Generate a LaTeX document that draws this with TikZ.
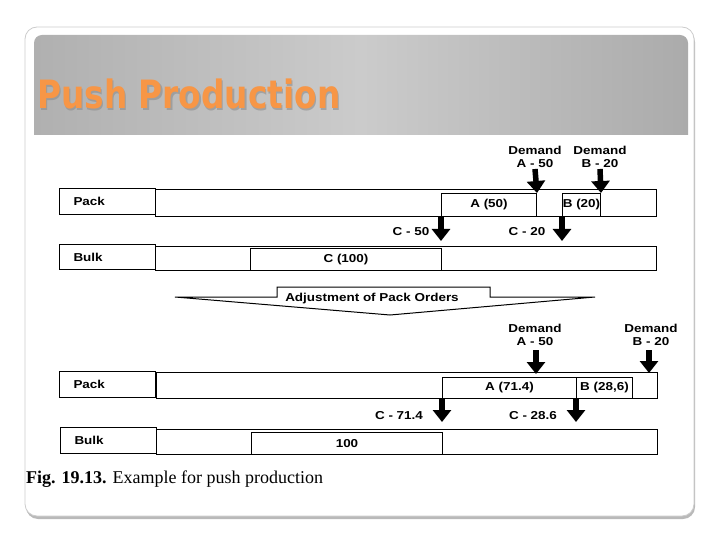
\documentclass[tikz,border=0pt]{standalone}
\usepackage{fontspec}
\setmainfont{Liberation Serif}
\newfontfamily\dfont[FakeStretch=1.17]{Liberation Sans}
\newfontfamily\tfont[FakeStretch=0.84]{DejaVu Sans}
\usetikzlibrary{arrows.meta}
\definecolor{ttl}{HTML}{F79646}
\definecolor{bandL}{HTML}{B0B0B0}
\definecolor{bandM}{HTML}{CBCBCB}
\definecolor{bandR}{HTML}{ABABAB}
\begin{document}
\begin{tikzpicture}[x=1pt,y=-1pt,
  dt/.style={font=\dfont\bfseries\fontsize{11.5}{13}\selectfont, inner sep=0pt, align=center},
  bx/.style={draw, line width=1pt, inner sep=0pt, anchor=north west, dt},
  lbl/.style={draw, line width=1pt, anchor=north west, inner xsep=14pt, inner ysep=0pt,
              text width=68pt, align=left, font=\dfont\bfseries\fontsize{11.5}{13}\selectfont},
  fat/.style={line width=5.5pt, -{Triangle[width=18pt,length=12pt]}},
  ]
\useasboundingbox (0,0) rectangle (720,540);
% frame
\fill[gray!55, rounded corners=12pt] (26,30) rectangle (695,519);
\filldraw[fill=white, draw=gray!40, line width=0.8pt, rounded corners=12pt] (25,27) rectangle (694,516);
% title band
\begin{scope}
  \clip (0,0) rectangle (720,135);
  \shade[left color=bandL, right color=bandR, middle color=bandM, rounded corners=8pt]
    (34,35) rectangle (688,160);
\end{scope}
\node[anchor=base west, inner sep=0pt, text=black!45, opacity=0.6,
      font=\tfont\bfseries\fontsize{39}{44}\selectfont] (ttlsh) at (38.3,110.3) {Push Production};
\node[anchor=base west, inner sep=0pt, text=ttl,
      font=\tfont\bfseries\fontsize{39}{44}\selectfont] (ttl) at (37,109) {Push Production};

% ---------- section 1 ----------
\node[lbl, minimum height=26pt] (lP1) at (59,188) {Pack};
\node[bx, minimum width=501pt, minimum height=27pt] (rP1) at (155,189) {};
\node[bx, minimum width=95pt, minimum height=23pt] (bA1) at (441,193) {A (50)};
\node[bx, minimum width=38pt, minimum height=23pt] (bB1) at (562,193) {B (20)};
\node[lbl, minimum height=25pt] (lB1) at (59,244) {Bulk};
\node[bx, minimum width=501pt, minimum height=24pt] (rB1) at (155,246) {};
\node[bx, minimum width=191pt, minimum height=22pt] (bC1) at (250,248) {C (100)};

\node[dt] (dA1) at (535,157) {Demand\\A - 50};
\node[dt] (dB1) at (600,157) {Demand\\B - 20};
\coordinate (sA1) at (535,169);
\coordinate (sB1) at (600,169);
\draw[fat] (sA1) -- (bA1.north east);
\draw[fat] (sB1) -- (bB1.north east);
\coordinate (eC1a) at (441,241);
\coordinate (eC1b) at (562,241);
\draw[fat] (bA1.south west) -- (eC1a);
\draw[fat] (bB1.south west) -- (eC1b);
\node[dt] (c50) at (411,232) {C - 50};
\node[dt] (c20) at (527,232) {C - 20};

% ---------- adjustment ----------
\draw[line width=1pt, line join=miter] (175,297) -- (277,297) -- (277,287) -- (490,287) -- (490,297)
   -- (595,297) -- (390,315) -- cycle;
\node[dt] (adj) at (372,299) {Adjustment of Pack Orders};

% ---------- section 2 ----------
\node[lbl, minimum height=26pt] (lP2) at (59,371) {Pack};
\node[bx, minimum width=501pt, minimum height=26pt] (rP2) at (156,372) {};
\node[bx, minimum width=134pt, minimum height=21pt] (bA2) at (442,377) {A (71.4)};
\node[bx, minimum width=56pt, minimum height=21pt] (bB2) at (576,377) {B (28,6)};
\node[lbl, minimum height=26pt] (lB2) at (60,427) {Bulk};
\node[bx, minimum width=501pt, minimum height=25pt] (rB2) at (156,429) {};
\node[bx, minimum width=191pt, minimum height=22pt] (bC2) at (251,432) {100};

\node[dt] (dA2) at (535,335) {Demand\\A - 50};
\node[dt] (dB2) at (651,335) {Demand\\B - 20};
\coordinate (sA2) at (536,350);
\coordinate (eA2) at (536,374);
\coordinate (sB2) at (649,350);
\coordinate (eB2) at (649,373);
\draw[fat] (sA2) -- (eA2);
\draw[fat] (sB2) -- (eB2);
\coordinate (eC2a) at (442,422);
\coordinate (eC2b) at (576,422);
\draw[fat] (bA2.south west) -- (eC2a);
\draw[fat] (bB2.south west) -- (eC2b);
\node[dt] (c714) at (399,416) {C - 71.4};
\node[dt] (c286) at (533,416) {C - 28.6};

% caption
\node[anchor=base west, inner sep=0pt, font=\fontsize{18}{20}\selectfont] (cap) at (26,483)
  {\textbf{Fig. 19.13.} Example for push production};
\end{tikzpicture}
\end{document}
